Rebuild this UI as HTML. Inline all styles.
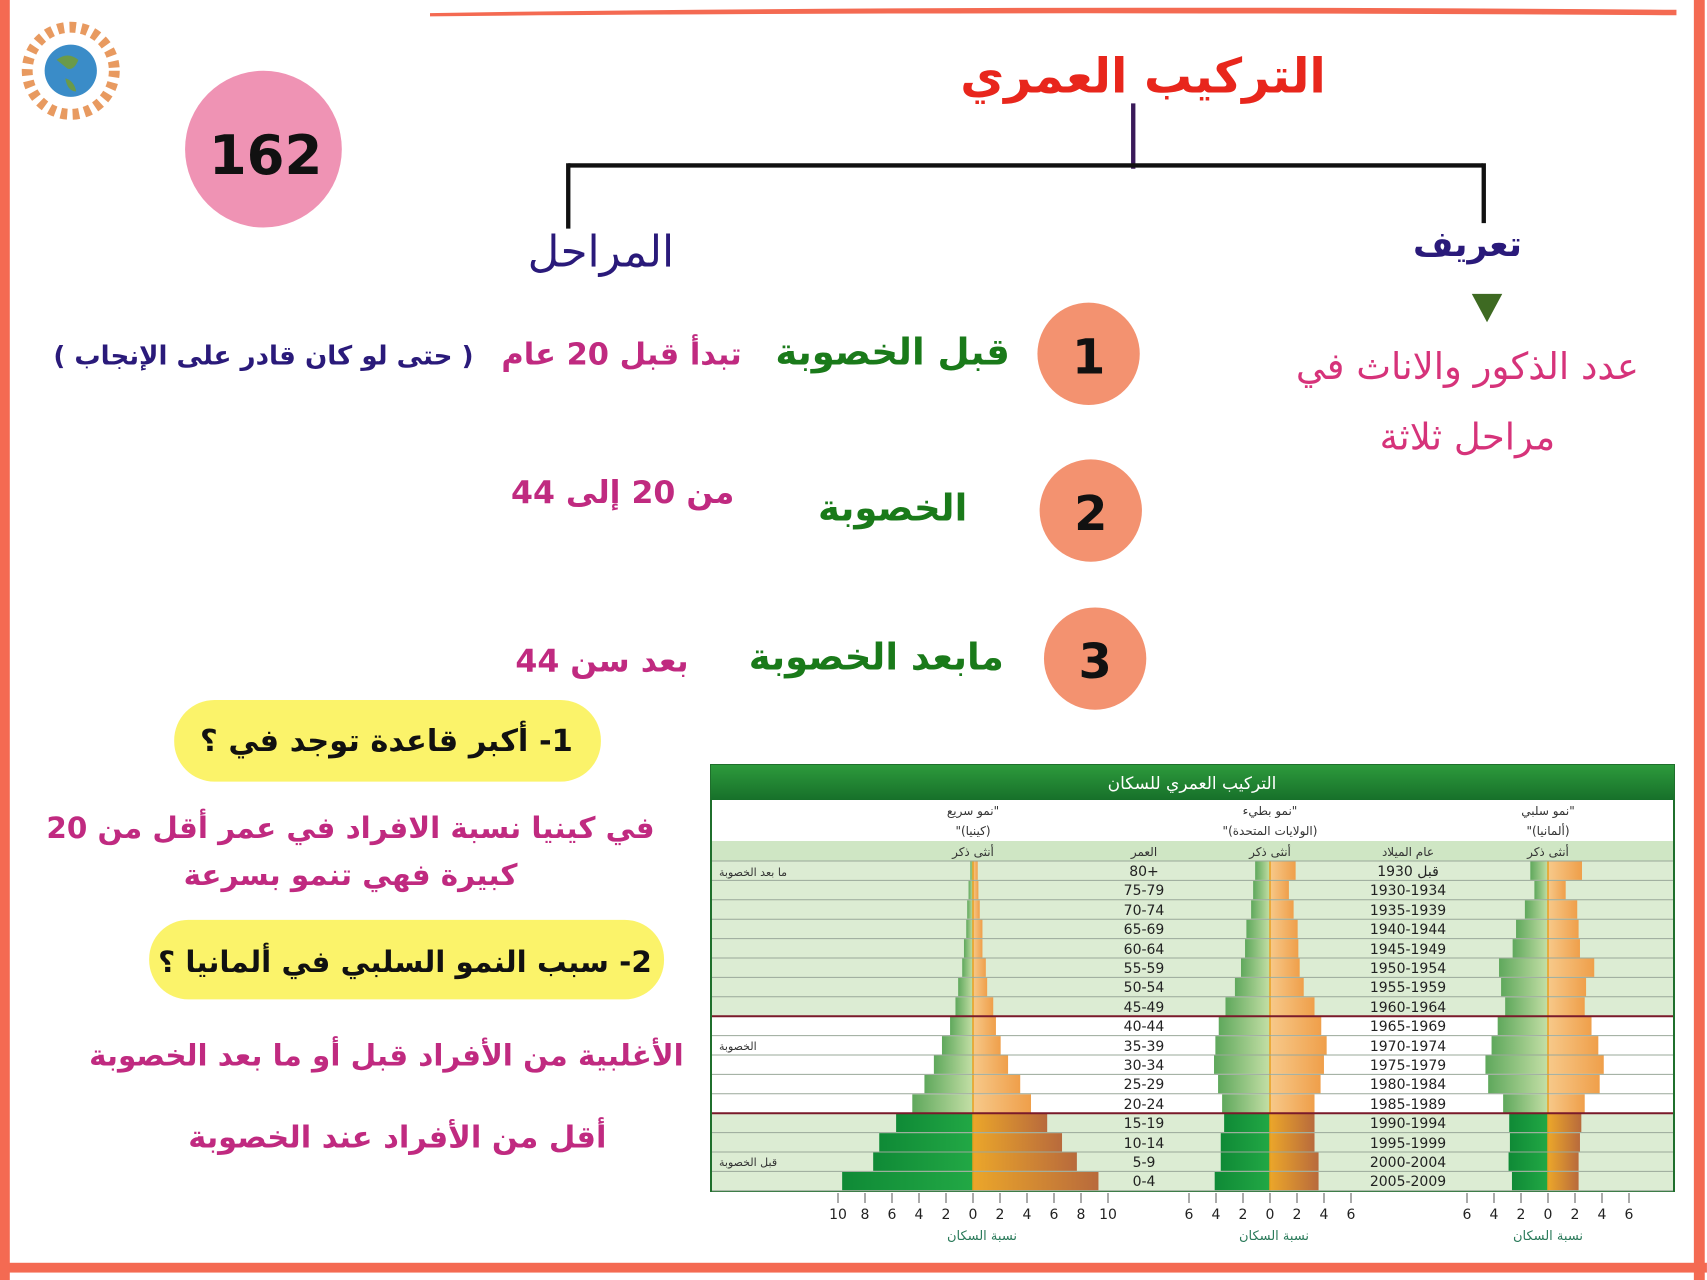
<!DOCTYPE html>
<html><head><meta charset="utf-8"><style>
html,body{margin:0;padding:0;background:#fff;}
svg{display:block;}
text{font-family:"DejaVu Sans",sans-serif;}
.r text{direction:rtl;unicode-bidi:embed;}
</style></head><body>
<svg id="s" width="1707" height="1280" xmlns="http://www.w3.org/2000/svg">
<defs>
<linearGradient id="mg" x1="1" x2="0" y1="0" y2="0"><stop offset="0" stop-color="#c4dfa6"/><stop offset="1" stop-color="#5fa85c"/></linearGradient>
<linearGradient id="fg" x1="0" x2="1"><stop offset="0" stop-color="#f7c98a"/><stop offset="1" stop-color="#ef9f4a"/></linearGradient>
<linearGradient id="mgd" x1="1" x2="0"><stop offset="0" stop-color="#22a845"/><stop offset="1" stop-color="#0f8a36"/></linearGradient>
<linearGradient id="fgd" x1="0" x2="1"><stop offset="0" stop-color="#eba62a"/><stop offset="1" stop-color="#b86a3c"/></linearGradient>
<linearGradient id="hd" x1="0" x2="0" y1="0" y2="1"><stop offset="0" stop-color="#2d9a3c"/><stop offset="1" stop-color="#17702a"/></linearGradient>
</defs>
<g transform="scale(1.0886)" class="r">
<rect x="0" y="0" width="9" height="1176" fill="#f46a52"/>
<rect x="1556" y="0" width="10" height="1176" fill="#f46a52"/>
<path d="M395 12 Q900 4 1540 9 L1540 14 Q900 10 395 15Z" fill="#f46a52"/>
<rect x="0" y="1160" width="1568" height="9" fill="#f46a52"/>
<circle cx="65" cy="65" r="40" fill="none" stroke="#e89a60" stroke-width="10" stroke-dasharray="6 5"/>
<circle cx="65" cy="65" r="24" fill="#3a8cc8"/>
<path d="M52 55 q10-8 20 0 q-4 10 -10 8z M60 72 q8 2 10 12 q-8 0 -10-12z" fill="#6a9a4a"/>
<circle cx="242" cy="137" r="72" fill="#ef93b4"/>
<text x="244" y="160" font-size="50" font-weight="bold" text-anchor="middle" fill="#111" style="direction:ltr">162</text>
<text x="1050" y="85" font-size="44" font-weight="bold" text-anchor="middle" fill="#e8261c">التركيب العمري</text>
<line x1="1041" y1="95" x2="1041" y2="155" stroke="#3a1a5a" stroke-width="4"/>
<line x1="522" y1="152" x2="1362" y2="152" stroke="#111" stroke-width="4"/>
<line x1="522" y1="150" x2="522" y2="210" stroke="#111" stroke-width="4"/>
<line x1="1363" y1="150" x2="1363" y2="205" stroke="#111" stroke-width="4"/>
<text x="552" y="245" font-size="40" text-anchor="middle" fill="#2a1a7a">المراحل</text>
<text x="1348" y="235" font-size="32" font-weight="bold" text-anchor="middle" fill="#2a1a7a">تعريف</text>
<path d="M1366 262 L1366 270 L1352 270 L1366 296 L1380 270 L1366 270Z" fill="#3e6a22"/>
<text x="1348" y="348" font-size="34" text-anchor="middle" fill="#d6337a">عدد الذكور والاناث في</text>
<text x="1348" y="413" font-size="34" text-anchor="middle" fill="#d6337a">مراحل ثلاثة</text>
<circle cx="1000" cy="325" r="47" fill="#f39270"/>
<text x="1000" y="343" font-size="44" font-weight="bold" text-anchor="middle" fill="#111">1</text>
<circle cx="1002" cy="469" r="47" fill="#f39270"/>
<text x="1002" y="487" font-size="44" font-weight="bold" text-anchor="middle" fill="#111">2</text>
<circle cx="1006" cy="605" r="47" fill="#f39270"/>
<text x="1006" y="623" font-size="44" font-weight="bold" text-anchor="middle" fill="#111">3</text>
<text x="820" y="335" font-size="34" font-weight="bold" text-anchor="middle" fill="#1a7a1a">قبل الخصوبة</text>
<text x="820" y="478" font-size="34" font-weight="bold" text-anchor="middle" fill="#1a7a1a">الخصوبة</text>
<text x="805" y="615" font-size="34" font-weight="bold" text-anchor="middle" fill="#1a7a1a">مابعد الخصوبة</text>
<text x="571" y="335" font-size="28" font-weight="bold" text-anchor="middle" fill="#c02a80">تبدأ قبل 20 عام</text>
<text x="572" y="462" font-size="29" font-weight="bold" text-anchor="middle" fill="#c02a80">من 20 إلى 44</text>
<text x="553" y="617" font-size="29" font-weight="bold" text-anchor="middle" fill="#c02a80">بعد سن 44</text>
<text x="242" y="335" font-size="24" font-weight="bold" text-anchor="middle" fill="#2a1a7a">( حتى لو كان قادر على الإنجاب )</text>
<rect x="160" y="643" width="392" height="75" rx="37" fill="#fbf36a"/>
<text x="355" y="690" font-size="28" font-weight="bold" text-anchor="middle" fill="#111">1- أكبر قاعدة توجد في ؟</text>
<text x="322" y="770" font-size="27" font-weight="bold" text-anchor="middle" fill="#c02a80">في كينيا نسبة الافراد في عمر أقل من 20</text>
<text x="322" y="813" font-size="27" font-weight="bold" text-anchor="middle" fill="#c02a80">كبيرة فهي تنمو بسرعة</text>
<rect x="137" y="845" width="473" height="73" rx="36" fill="#fbf36a"/>
<text x="372" y="893" font-size="27" font-weight="bold" text-anchor="middle" fill="#111">2- سبب النمو السلبي في ألمانيا ؟</text>
<text x="355" y="979" font-size="27" font-weight="bold" text-anchor="middle" fill="#c02a80">الأغلبية من الأفراد قبل أو ما بعد الخصوبة</text>
<text x="365" y="1054" font-size="28" font-weight="bold" text-anchor="middle" fill="#c02a80">أقل من الأفراد عند الخصوبة</text>
</g>
<g id="chart">
<rect x="711" y="765" width="963" height="426" fill="#fff" stroke="#1f6f2c" stroke-width="2"/>
<rect x="711" y="765" width="963" height="35" fill="url(#hd)"/>
<text x="1192" y="789" font-size="17" text-anchor="middle" fill="#fff">التركيب العمري للسكان</text>
<rect x="712" y="841" width="961" height="20" fill="#cfe6c4"/>
<g id="rows"></g>
<g font-size="12" fill="#333" text-anchor="middle" class="r">
<text x="973" y="815">"نمو سريع</text><text x="973" y="835">(كينيا)"</text>
<text x="1270" y="815">"نمو بطيء</text><text x="1270" y="835">(الولايات المتحدة)"</text>
<text x="1548" y="815">"نمو سلبي</text><text x="1548" y="835">(ألمانيا)"</text>
<text x="973" y="856">أنثى   ذكر</text><text x="1270" y="856">أنثى   ذكر</text><text x="1548" y="856">أنثى   ذكر</text>
<text x="1144" y="856">العمر</text><text x="1408" y="856">عام الميلاد</text>
</g>
<g font-size="11" fill="#333">
<text x="719" y="876">ما بعد الخصوبة</text>
<text x="719" y="1050">الخصوبة</text>
<text x="719" y="1166">قبل الخصوبة</text>
</g>
<g font-size="14" fill="#222" text-anchor="middle">
<text x="1144" y="876">80+</text><text x="1144" y="895">75-79</text><text x="1144" y="915">70-74</text><text x="1144" y="934">65-69</text><text x="1144" y="954">60-64</text><text x="1144" y="973">55-59</text><text x="1144" y="992">50-54</text><text x="1144" y="1012">45-49</text><text x="1144" y="1031">40-44</text><text x="1144" y="1051">35-39</text><text x="1144" y="1070">30-34</text><text x="1144" y="1089">25-29</text><text x="1144" y="1109">20-24</text><text x="1144" y="1128">15-19</text><text x="1144" y="1148">10-14</text><text x="1144" y="1167">5-9</text><text x="1144" y="1186">0-4</text>
<text x="1408" y="876">قبل 1930</text><text x="1408" y="895">1930-1934</text><text x="1408" y="915">1935-1939</text><text x="1408" y="934">1940-1944</text><text x="1408" y="954">1945-1949</text><text x="1408" y="973">1950-1954</text><text x="1408" y="992">1955-1959</text><text x="1408" y="1012">1960-1964</text><text x="1408" y="1031">1965-1969</text><text x="1408" y="1051">1970-1974</text><text x="1408" y="1070">1975-1979</text><text x="1408" y="1089">1980-1984</text><text x="1408" y="1109">1985-1989</text><text x="1408" y="1128">1990-1994</text><text x="1408" y="1148">1995-1999</text><text x="1408" y="1167">2000-2004</text><text x="1408" y="1186">2005-2009</text>
</g>
<g id="ticks" stroke="#555" stroke-width="1"></g>
<g font-size="14" fill="#222" text-anchor="middle">
<text x="838" y="1219">10</text><text x="865" y="1219">8</text><text x="892" y="1219">6</text><text x="919" y="1219">4</text><text x="946" y="1219">2</text><text x="973" y="1219">0</text><text x="1000" y="1219">2</text><text x="1027" y="1219">4</text><text x="1054" y="1219">6</text><text x="1081" y="1219">8</text><text x="1108" y="1219">10</text>
<text x="1189" y="1219">6</text><text x="1216" y="1219">4</text><text x="1243" y="1219">2</text><text x="1270" y="1219">0</text><text x="1297" y="1219">2</text><text x="1324" y="1219">4</text><text x="1351" y="1219">6</text>
<text x="1467" y="1219">6</text><text x="1494" y="1219">4</text><text x="1521" y="1219">2</text><text x="1548" y="1219">0</text><text x="1575" y="1219">2</text><text x="1602" y="1219">4</text><text x="1629" y="1219">6</text>
</g>
<g font-size="13" fill="#2a7a5a" text-anchor="middle">
<text x="982" y="1240">نسبة السكان</text><text x="1274" y="1240">نسبة السكان</text><text x="1548" y="1240">نسبة السكان</text>
</g>
</g>
<script>
(function(){
var NS="http://www.w3.org/2000/svg";
var rows=document.getElementById("rows");
function r(x,y,w,h,f,g){var e=document.createElementNS(NS,"rect");e.setAttribute("x",x);e.setAttribute("y",y);e.setAttribute("width",Math.max(w,0));e.setAttribute("height",h);e.setAttribute("fill",f);(g||rows).appendChild(e);}
var y0=861,h=19.4;
for(var i=0;i<17;i++){var bg=(i>=8&&i<=12)?"#ffffff":"#dcecd3";r(712,y0+i*h,961,h,bg);}
var K=[[.2,.35],[.33,.4],[.43,.5],[.5,.7],[.67,.7],[.8,.95],[1.1,1.05],[1.3,1.5],[1.7,1.7],[2.3,2.05],[2.9,2.6],[3.6,3.5],[4.5,4.3],[5.7,5.5],[6.95,6.6],[7.4,7.7],[9.7,9.3]];
var U=[[1.1,1.9],[1.25,1.4],[1.4,1.75],[1.75,2.05],[1.85,2.1],[2.15,2.2],[2.6,2.5],[3.3,3.3],[3.8,3.8],[4.05,4.2],[4.15,4.0],[3.85,3.75],[3.55,3.3],[3.4,3.3],[3.65,3.3],[3.65,3.6],[4.1,3.6]];
var G=[[1.3,2.5],[1,1.3],[1.7,2.15],[2.35,2.25],[2.6,2.35],[3.6,3.4],[3.45,2.8],[3.15,2.7],[3.7,3.2],[4.15,3.7],[4.6,4.1],[4.4,3.8],[3.3,2.7],[2.85,2.45],[2.8,2.35],[2.9,2.25],[2.65,2.25]];
var S=[[K,973,13.49],[U,1270,13.49],[G,1548,13.6]];
S.forEach(function(s){var d=s[0],z=s[1],u=s[2];for(var i=0;i<17;i++){var y=y0+i*h+0.5,dk=i>=13;r(z-d[i][0]*u,y,d[i][0]*u,h-1,dk?"url(#mgd)":"url(#mg)");r(z,y,d[i][1]*u,h-1,dk?"url(#fgd)":"url(#fg)");}
var l=document.createElementNS(NS,"line");l.setAttribute("x1",z);l.setAttribute("x2",z);l.setAttribute("y1",y0);l.setAttribute("y2",y0+17*h);l.setAttribute("stroke","#e8a020");l.setAttribute("stroke-width","1.5");rows.appendChild(l);});
for(var i=0;i<=17;i++){var l=document.createElementNS(NS,"line");var red=(i==8||i==13);l.setAttribute("x1",712);l.setAttribute("x2",1673);l.setAttribute("y1",y0+i*h);l.setAttribute("y2",y0+i*h);l.setAttribute("stroke",red?"#7a1a2a":"#9aa89a");l.setAttribute("stroke-width",red?"2":"1");rows.appendChild(l);}
var t=document.getElementById("ticks");
[[973,10],[1270,6],[1548,6]].forEach(function(a){for(var v=-a[1];v<=a[1];v+=2){var l=document.createElementNS(NS,"line");var x=a[0]+v*13.5;l.setAttribute("x1",x);l.setAttribute("x2",x);l.setAttribute("y1",1193);l.setAttribute("y2",1203);t.appendChild(l);}});
})();
</script>
</svg>
</body></html>
